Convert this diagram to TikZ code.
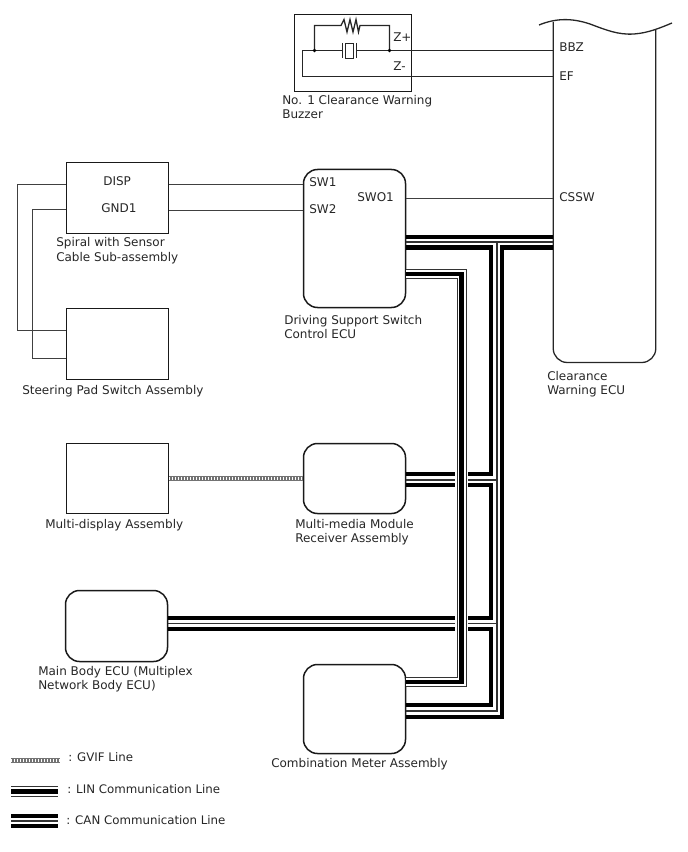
\documentclass[tikz,border=0pt]{standalone}
\usepackage{fontspec}
\setmainfont{DejaVu Sans}
\def\px{0.75pt}
\tikzset{
  unit box/.style={draw=black!90,line width=1.5*\px,inner sep=0pt,minimum width=102*\px},
  plain box/.style={unit box},
  round box/.style={unit box,rounded corners=14*\px},
  wire/.style={draw=black!75,line width=1*\px},
  heavy wire/.style={draw=black!85,line width=1.3*\px},
  caption/.style={anchor=base west,inner sep=0pt,font=\fontsize{9}{10.5}\selectfont,align=left,text=black!85},
  key text/.style={caption,font=\fontsize{8.85}{10.5}\selectfont},
  can thick/.style={draw=black,line width=4.2*\px,miter limit=10},
  can thin/.style={draw=black!80,line width=1.2*\px},
}
\begin{document}
\begin{tikzpicture}[x=0.75pt,y=-0.75pt]
\useasboundingbox (0,0) rectangle (688,852);

% equipment boxes
\node[plain box,minimum height=77*\px,minimum width=117*\px] (buzzer) at (353,53) {};
\node[plain box,minimum height=71*\px] (spiral) at (117.5,198) {};
\node[plain box,minimum height=71*\px] (pad) at (117.5,344) {};
\node[plain box,minimum height=70*\px] (display) at (117.5,478.5) {};
\node[round box,minimum height=138*\px] (dsecu) at (354.5,238.5) {};
\node[round box,minimum height=70*\px] (media) at (354.5,478.5) {};
\node[round box,minimum height=71*\px] (body) at (116.5,626) {};
\node[round box,minimum height=89*\px] (meter) at (354.5,709) {};
\node[inner sep=0pt,minimum width=102*\px,minimum height=342*\px] (ecu) at (604.5,191.5) {};

% clearance warning ECU, torn off at the top
\draw[heavy wire,rounded corners=14*\px] (ecu.west |- 0,22) -- (ecu.west |- 0,362.5) -- (ecu.east |- 0,362.5) -- (ecu.east |- 0,30);
\draw[heavy wire] (539,25) .. controls (556,18) and (572,18) .. (590,24)
  .. controls (606,30) and (618,35) .. (634,34) .. controls (648,33) and (660,28) .. (672,23);

% signal wires
\draw[wire] (spiral.west |- 0,184.5) -- (17.5,184.5) -- (17.5,330.5) -- (pad.west |- 0,330.5);
\draw[wire] (spiral.west |- 0,209.5) -- (32.5,209.5) -- (32.5,358.5) -- (pad.west |- 0,358.5);
\draw[wire] (spiral.east |- 0,184.5) -- (dsecu.west |- 0,184.5);
\draw[wire] (spiral.east |- 0,210.5) -- (dsecu.west |- 0,210.5);
\draw[wire] (dsecu.east |- 0,198.5) -- (ecu.west |- 0,198.5);

% buzzer internals and its two wires
\coordinate (plateL) at (342.5,50.5);
\coordinate (plateR) at (356.5,50.5);
\draw[heavy wire] (ecu.west |- 0,50.5) -- (plateR);
\draw[heavy wire] (plateL) -- (302.5,50.5) -- (302.5,76.5) -- (ecu.west |- 0,76.5);
\draw[heavy wire] (314.5,50.5) -- (314.5,25.5) -- (341,25.5) -- (344,19.5) -- (347,32) -- (350,19.5)
  -- (353,32) -- (356,19.5) -- (358.5,32) -- (360,25.5) -- (389.5,25.5) -- (389.5,50.5);
\draw[heavy wire] (plateL |- 0,43) -- (plateL |- 0,58);
\draw[heavy wire] (plateR |- 0,43) -- (plateR |- 0,58);
\draw[heavy wire] (345.5,43.5) rectangle (353.5,58.5);
\fill[black] (314.5,50.5) circle[radius=1.8] (389.5,50.5) circle[radius=1.8];

% GVIF line
\draw[draw=black!55,line width=5*\px] (display.east) -- (media.west);
\draw[draw=white,line width=3*\px,dash pattern=on 0.75pt off 1.5pt] (display.east) -- (media.west);

% CAN bus
\draw[can thick] (dsecu.east |- 0,237) -- (ecu.west |- 0,237);
\draw[can thick] (dsecu.east |- 0,247.5) -- (491,247.5) -- (491,474) -- (media.east |- 0,474);
\draw[can thick] (media.east |- 0,485) -- (491,485) -- (491,618) -- (body.east |- 0,618);
\draw[can thick] (body.east |- 0,629) -- (491,629) -- (491,705) -- (meter.east |- 0,705);
\draw[can thick] (ecu.west |- 0,247.5) -- (502,247.5) -- (502,717) -- (meter.east |- 0,717);
\draw[can thin] (dsecu.east |- 0,242) -- (ecu.west |- 0,242);
\draw[can thin] (497,242) -- (497,711) -- (meter.east |- 0,711);
\draw[can thin] (media.east |- 0,480) -- (497,480);
\draw[can thin] (body.east |- 0,623.5) -- (497,623.5);

% LIN bus, passing over the CAN horizontals
\draw[draw=white,line width=12.5*\px] (461.5,274) -- (461.5,682);
\draw[draw=black!80,line width=10*\px] (dsecu.east |- 0,274) -- (461.5,274) -- (461.5,682) -- (meter.east |- 0,682);
\draw[draw=white,line width=8*\px] (dsecu.east |- 0,274) -- (461.5,274) -- (461.5,682) -- (meter.east |- 0,682);
\draw[draw=black,line width=4.2*\px] (dsecu.east |- 0,274) -- (461.5,274) -- (461.5,682) -- (meter.east |- 0,682);

% legend
\coordinate (gvifA) at (11,760.5);
\coordinate (gvifB) at (60,760.5);
\draw[draw=black!55,line width=5*\px] (gvifA) -- (gvifB);
\draw[draw=white,line width=3*\px,dash pattern=on 0.75pt off 1.5pt] (gvifA) -- (gvifB);
\coordinate (linA) at (11,791.5);
\coordinate (linB) at (58,791.5);
\draw[draw=black!80,line width=11*\px] (linA) -- (linB);
\draw[draw=white,line width=9*\px] (linA) -- (linB);
\draw[draw=black,line width=4.2*\px] (linA) -- (linB);
\coordinate (canA) at (11,821);
\coordinate (canB) at (58,821);
\draw[draw=black,line width=3.6*\px] ([yshift=3.75pt]canA) -- ([yshift=3.75pt]canB);
\draw[draw=black,line width=3.6*\px] ([yshift=-3.75pt]canA) -- ([yshift=-3.75pt]canB);
\draw[can thin] (canA) -- (canB);

% lettering
\node[caption] (tZp) at (393,42) {Z+};
\node[caption] (tZm) at (393,71) {Z-};
\node[caption] (tBBZ) at (559,52) {BBZ};
\node[caption] (tEF) at (559,81) {EF};
\node[caption] (tCSSW) at (559,202) {CSSW};
\node[caption] (tDISP) at (103,186) {DISP};
\node[caption] (tGND) at (101,213) {GND1};
\node[caption] (tSWa) at (309,187) {SW1};
\node[caption] (tSWb) at (309,214) {SW2};
\node[caption] (tSWO) at (357,202) {SWO1};
\node[caption] (lBuzzerA) at (282,105) {No. 1 Clearance Warning};
\node[caption] (lBuzzerB) at (282,119) {Buzzer};
\node[caption] (lSpiralA) at (56,247) {Spiral with Sensor};
\node[caption] (lSpiralB) at (56,261) {Cable Sub-assembly};
\node[caption] (lPad) at (22,394) {Steering Pad Switch Assembly};
\node[caption] (lDsA) at (284,324) {Driving Support Switch};
\node[caption] (lDsB) at (284,338) {Control ECU};
\node[caption] (lEcuA) at (547,380) {Clearance};
\node[caption] (lEcuB) at (547,394) {Warning ECU};
\node[caption] (lDisplay) at (45,528) {Multi-display Assembly};
\node[caption] (lMediaA) at (295,528) {Multi-media Module};
\node[caption] (lMediaB) at (295,542) {Receiver Assembly};
\node[caption] (lBodyA) at (38,675) {Main Body ECU (Multiplex};
\node[caption] (lBodyB) at (38,689) {Network Body ECU)};
\node[caption] (lMeter) at (271,767) {Combination Meter Assembly};
\node[key text] (kGvif) at (68,761) {: GVIF Line};
\node[key text] (kLin) at (67,793) {: LIN Communication Line};
\node[key text] (kCan) at (66,824) {: CAN Communication Line};
\end{tikzpicture}
\end{document}
